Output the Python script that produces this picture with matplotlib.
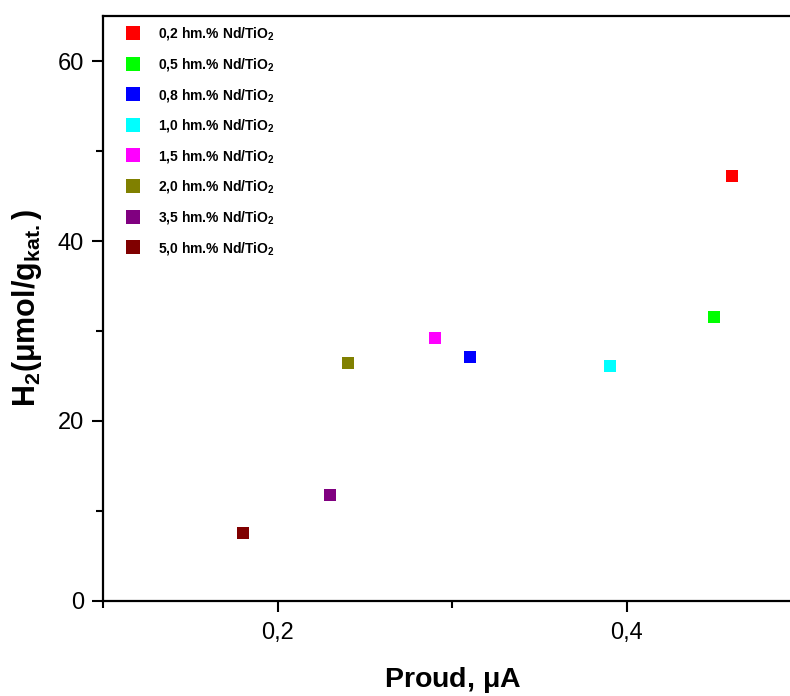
import matplotlib
matplotlib.use('Agg')
import matplotlib.pyplot as plt  # NOQA
from matplotlib.ticker import MultipleLocator, FuncFormatter  # NOQA

plt.rcParams['font.family'] = ['Liberation Sans', 'DejaVu Sans']
plt.rcParams['mathtext.fontset'] = 'custom'
plt.rcParams['mathtext.rm'] = 'Liberation Sans'
plt.rcParams['mathtext.bf'] = 'Liberation Sans:bold'
plt.rcParams['mathtext.default'] = 'bf'

# Nd loading of the catalysts, photocurrent and H2 yield
loadings = ['0,2', '0,5', '0,8', '1,0', '1,5', '2,0', '3,5', '5,0']
current = [0.46, 0.45, 0.31, 0.39, 0.29, 0.24, 0.23, 0.18]
h2_yield = [47.2, 31.6, 27.1, 26.1, 29.2, 26.4, 11.8, 7.6]
colors = ['#ff0000', '#00ff00', '#0000ff', '#00ffff', '#ff00ff',
          '#808000', '#800080', '#800000']

fig = plt.figure(figsize=(7.9, 6.96), dpi=100)
ax = fig.add_axes([0.131, 0.1365, 0.8835, 0.8405])

for name, x, y, c in zip(loadings, current, h2_yield, colors):
    ax.plot([x], [y], linestyle='none', marker='s', markersize=9,
            color=c, markeredgewidth=0,
            label=name + ' hm.% Nd/TiO$_2$')

ax.set_xlim(0.1, 0.5)
ax.set_ylim(0, 65)
ax.xaxis.set_major_locator(MultipleLocator(0.2))
ax.xaxis.set_minor_locator(MultipleLocator(0.1))
ax.yaxis.set_major_locator(MultipleLocator(20))
ax.yaxis.set_minor_locator(MultipleLocator(10))
ax.xaxis.set_major_formatter(FuncFormatter(
    lambda v, p: ('%.1f' % v).replace('.', ',')))
ax.yaxis.set_major_formatter(FuncFormatter(lambda v, p: '%d' % v))

for s in ax.spines.values():
    s.set_linewidth(1.6)
ax.tick_params(which='major', direction='out', length=8, width=1.5,
               labelsize=17, pad=6)
ax.tick_params(which='minor', direction='out', length=5, width=1.5)
ax.tick_params(axis='x', which='major', pad=7)

ax.set_xlabel('Proud, $\\mu$A', fontsize=20.5, fontweight='bold',
              labelpad=15)
ax.set_ylabel('H$_2$($\\mu$mol/g$_{kat.}$)', fontsize=22,
              fontweight='bold', labelpad=10)

ax.legend(loc='upper left', bbox_to_anchor=(0.032, 0.984), frameon=False,
          prop={'size': 10, 'weight': 'bold'}, handlelength=1.0,
          handletextpad=1.3, labelspacing=0.98, borderaxespad=0,
          borderpad=0, markerscale=1.05)

fig.savefig('out.png', dpi=100)
plt.close()
